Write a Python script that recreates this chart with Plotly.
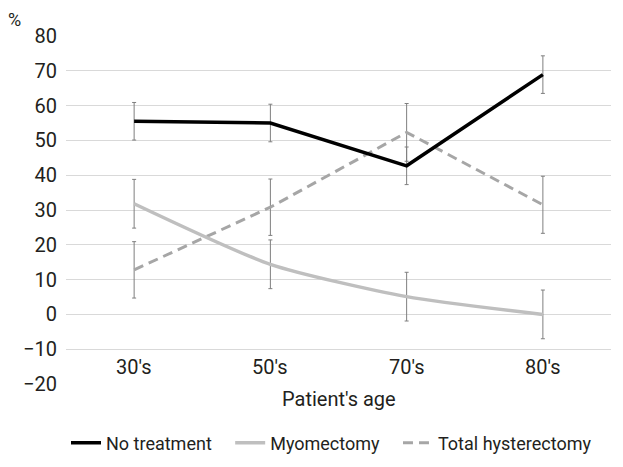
import plotly.graph_objects as go

categories = ["30's", "50's", "70's", "80's"]
no_treatment = [55.5, 55.0, 42.7, 68.9]
no_treatment_err = [5.4, 5.4, 5.4, 5.4]
myomectomy = [31.8, 14.4, 5.1, 0.0]
myomectomy_err = [7.0, 7.0, 7.0, 7.0]
total_hyst = [12.8, 30.8, 52.3, 31.5]
total_hyst_err = [8.1, 8.1, 8.3, 8.2]
y_ticks = [80, 70, 60, 50, 40, 30, 20, 10, 0, -10, -20]
series_names = ["No treatment", "Myomectomy", "Total hysterectomy"]

FONT = "Roboto, 'Liberation Sans', sans-serif"
TXT = "#231f20"
ERR = dict(type="data", visible=True, color="#7f7f7f", thickness=1, width=2)
PAD = "\u00a0" * 3  # extra spacing between legend entries

# page has an 8px body offset
OFF = 8
W, H = 623, 467
ML, MT = 66 - OFF, 36 - OFF
PW, PH = 545, 348
MR, MB = W - ML - PW, H - MT - PH

fig = go.Figure()
fig.add_trace(go.Scatter(
    x=categories, y=total_hyst, name=series_names[2], mode="lines",
    line=dict(color="#a6a6a6", width=3, dash="10px,6px"),
    error_y=dict(array=total_hyst_err, **ERR)))
fig.add_trace(go.Scatter(
    x=categories, y=myomectomy, name=series_names[1] + PAD, mode="lines",
    line=dict(color="#bfbfbf", width=3.5, shape="spline", smoothing=0.65),
    error_y=dict(array=myomectomy_err, **ERR)))
fig.add_trace(go.Scatter(
    x=categories, y=no_treatment, name=series_names[0] + PAD, mode="lines",
    line=dict(color="#000000", width=3.5),
    error_y=dict(array=no_treatment_err, **ERR)))

annotations = []
for c in categories:
    annotations.append(dict(x=c, y=-15, xref="x", yref="y", text=c, showarrow=False,
                            font=dict(family=FONT, size=20, color=TXT)))
annotations.append(dict(x=0.5, y=0, xref="paper", yref="paper", yanchor="top", yshift=-1,
                        text="Patient's age", showarrow=False,
                        font=dict(family=FONT, size=20, color=TXT)))
annotations.append(dict(x=(14 - OFF - ML) / PW, y=(MT + PH) / PH,
                        xref="paper", yref="paper", borderpad=0,
                        xanchor="center", yanchor="top", text="%", showarrow=False,
                        font=dict(family=FONT, size=18, color=TXT)))

fig.update_layout(
    width=W, height=H,
    margin=dict(l=ML, r=MR, t=MT, b=MB, autoexpand=False),
    paper_bgcolor="white", plot_bgcolor="white",
    font=dict(family=FONT, color=TXT),
    showlegend=True,
    legend=dict(orientation="h", x=58 / W, xref="container", xanchor="left",
                y=1 - (443 - OFF) / H, yref="container", yanchor="middle",
                traceorder="reversed", font=dict(family=FONT, size=18, color=TXT)),
    xaxis=dict(type="category", range=[-0.5, 3.5], showticklabels=False,
               showgrid=False, zeroline=False, showline=False, ticks=""),
    yaxis=dict(range=[-20, 80], tickvals=y_ticks, showgrid=True, gridcolor="#d9d9d9",
               gridwidth=1, zeroline=False, showline=False, ticks="",
               tickfont=dict(family=FONT, size=20, color=TXT), ticklabelstandoff=8),
    annotations=annotations,
)

fig.write_html("out.html")
